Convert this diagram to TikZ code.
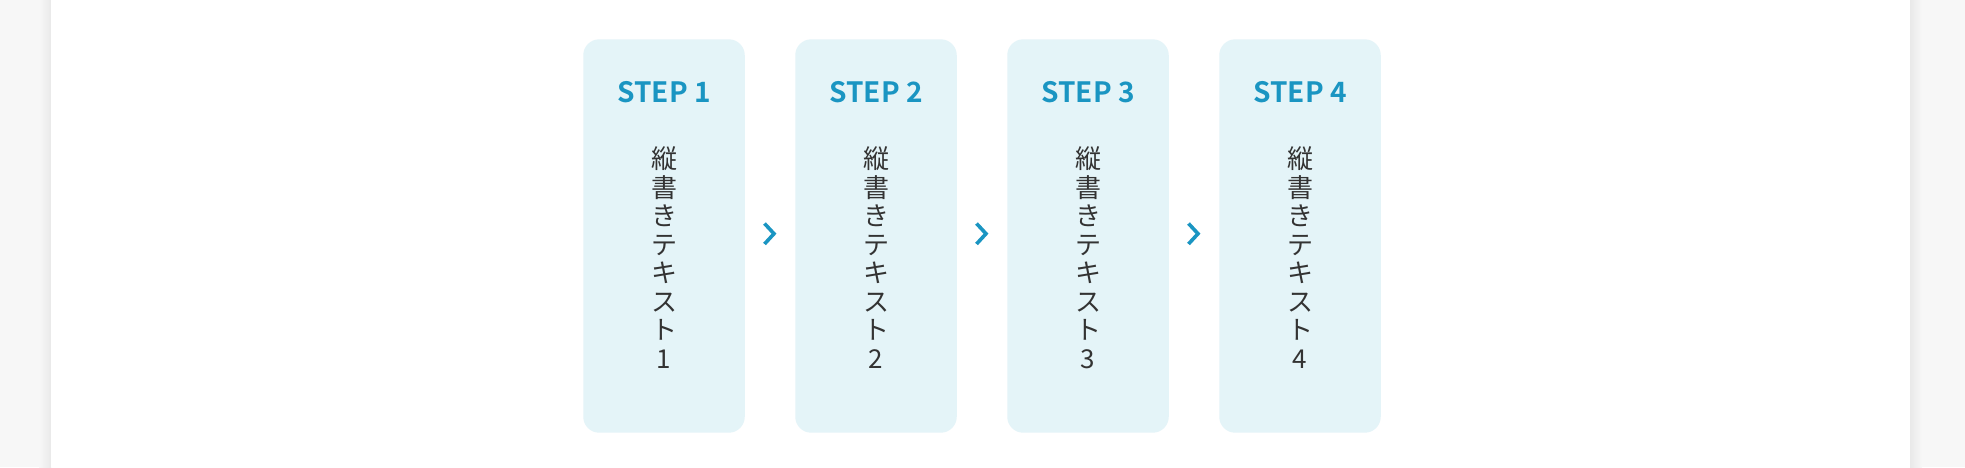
\documentclass[tikz,border=0pt]{standalone}
\usepackage{fontspec}
\setmainfont{Noto Sans CJK JP}[BoldFont={Noto Sans CJK JP Bold}]
\usetikzlibrary{calc}
\definecolor{stepblue}{HTML}{1A95C2}
\definecolor{boxfill}{HTML}{E4F4F8}
\definecolor{pagegray}{HTML}{F7F7F7}
\definecolor{shadowgray}{HTML}{E9E9E9}
\definecolor{textdark}{HTML}{333333}
\begin{document}
\begin{tikzpicture}[x=1pt,y=-1pt,
  stepbox/.style={fill=boxfill, rounded corners=16pt, minimum width=161.5pt, minimum height=393.4pt, inner sep=0pt},
  steplabel/.style={text=stepblue, font=\fontsize{28}{28}\selectfont\bfseries, anchor=base, inner sep=0pt},
  vtext/.style={text=textdark, font=\fontsize{26}{28.5}\selectfont, align=center, anchor=base, inner sep=0pt},
  chevron/.style={draw=stepblue, line width=3.6pt, miter limit=10}]
\useasboundingbox (0,0) rectangle (1965,467);
% page background and panel
\fill[pagegray] (0,0) rectangle (1965,467);
\shade[left color=pagegray, right color=shadowgray] (39,0) rectangle (51,467);
\shade[left color=shadowgray, right color=pagegray] (1910,0) rectangle (1922,467);
\fill[white] (51,0) rectangle (1910,467);
% boxes
\foreach \i/\x in {1/664, 2/876, 3/1088, 4/1300} {
  \node[stepbox] (b\i) at (\x,236) {};
  \node[steplabel] (s\i) at (\x,102.3) {STEP \i};
  \node[vtext] (t\i) at (\x,368.1) {縦\\書\\き\\テ\\キ\\ス\\ト\\\i};
}
% chevrons
\foreach \a/\b in {1/2, 2/3, 3/4} {
  \coordinate (m\a) at ($(b\a.east)!0.5!(b\b.west)$);
  \draw[chevron] ($(m\a)+(-5.5,-12.5)$) -- ($(m\a)+(4,-2.3)$) -- ($(m\a)+(-5.5,8)$);
}
\end{tikzpicture}
\end{document}
